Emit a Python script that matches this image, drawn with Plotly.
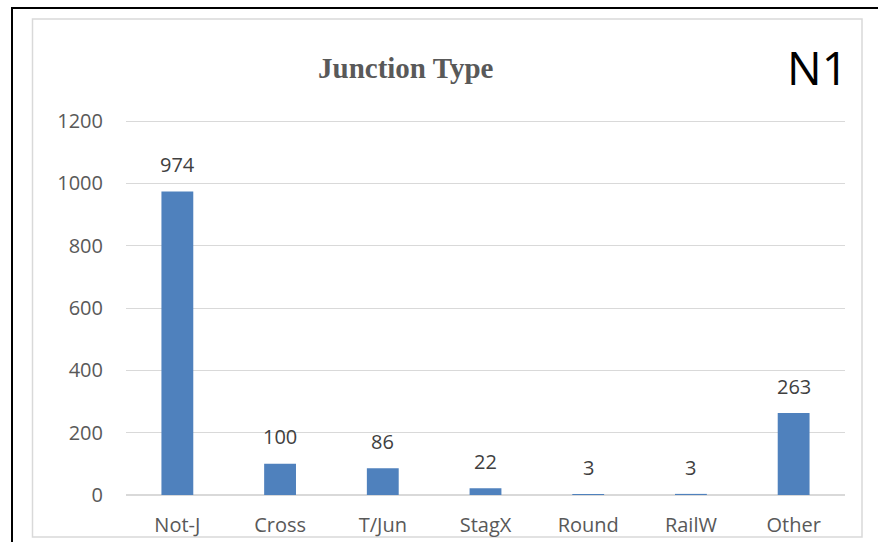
import plotly.graph_objects as go

# Junction type counts
categories = ["Not-J", "Cross", "T/Jun", "StagX", "Round", "RailW", "Other"]
counts = [974, 100, 86, 22, 3, 3, 263]
y_ticks = [0, 200, 400, 600, 800, 1000, 1200]

W, H = 878, 542
BAR_COLOR = "#4F81BD"
TEXT_GRAY = "#595959"
LABEL_GRAY = "#404040"
GRID = "#D9D9D9"
FONT = "Open Sans"

Y_MAX = 1210          # a little headroom so the 1200 gridline is drawn
PX_PER_UNIT = 374 / 1200


def px(x):
    return x / W


def py(y):
    return 1 - y / H


fig = go.Figure()
fig.add_trace(go.Bar(
    x=categories,
    y=counts,
    width=0.31,
    marker=dict(color=BAR_COLOR, line=dict(width=0)),
    hoverinfo="x+y",
))

plot_top = 495 - Y_MAX * PX_PER_UNIT

fig.update_layout(
    width=W, height=H,
    margin=dict(l=0, r=0, t=0, b=0, autoexpand=False),
    paper_bgcolor="white",
    plot_bgcolor="white",
    showlegend=False,
    xaxis=dict(
        domain=[px(126), px(845)],
        categoryorder="array", categoryarray=categories,
        showgrid=False, showline=False, zeroline=False,
        ticks="", ticklabelstandoff=16,
        tickfont=dict(family=FONT, size=20, color=TEXT_GRAY),
    ),
    yaxis=dict(
        domain=[py(495), py(plot_top)],
        range=[0, Y_MAX],
        tickvals=y_ticks,
        showgrid=True, gridcolor=GRID, gridwidth=1.3,
        zeroline=True, zerolinecolor=GRID, zerolinewidth=1.6,
        showline=False, ticks="", ticklabelstandoff=22,
        tickfont=dict(family=FONT, size=20, color=TEXT_GRAY),
    ),
    shapes=[
        # outer black frame (top and left)
        dict(type="line", xref="paper", yref="paper",
             x0=px(11), x1=1, y0=py(8), y1=py(8),
             line=dict(color="black", width=2)),
        dict(type="line", xref="paper", yref="paper",
             x0=px(12), x1=px(12), y0=0, y1=py(7),
             line=dict(color="black", width=2)),
        # inner chart-area border
        dict(type="rect", xref="paper", yref="paper",
             x0=px(32.5), x1=px(862), y0=py(537), y1=py(19),
             line=dict(color=GRID, width=1.5), layer="below"),
    ],
)

# chart title and panel tag
fig.add_annotation(
    text="<b>Junction Type</b>", xref="paper", yref="paper",
    x=px(406), y=py(68), xanchor="center", yanchor="middle",
    showarrow=False,
    font=dict(family="Liberation Serif", size=29, color=TEXT_GRAY),
)
fig.add_annotation(
    text="N1", xref="paper", yref="paper",
    x=px(817), y=py(67), xanchor="center", yanchor="middle",
    showarrow=False,
    font=dict(family=FONT, size=46, color="black"),
)

# value labels above each bar
for c, v in zip(categories, counts):
    fig.add_annotation(
        x=c, y=v, xref="x", yref="y",
        text=str(v), showarrow=False,
        yshift=27, yanchor="middle",
        font=dict(family=FONT, size=20, color=LABEL_GRAY),
    )

fig.write_html("out.html")
